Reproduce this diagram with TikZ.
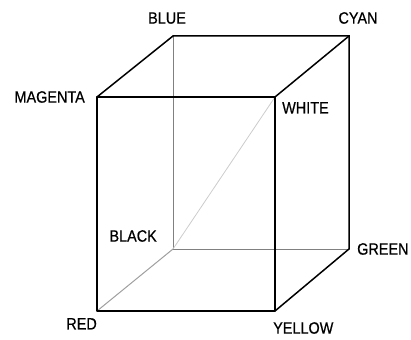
\documentclass[tikz,border=0pt]{standalone}
\usepackage{fontspec}
\setmainfont{Liberation Sans}[FakeStretch=0.88, FakeBold=0.6]
\usetikzlibrary{positioning}

\begin{document}
\begin{tikzpicture}[x=1pt, y=1pt,
    lbl/.style={inner sep=0pt, font=\fontsize{16.4}{18}\selectfont},
    front/.style={line width=1.7pt, line cap=round, line join=round},
    edge/.style={line width=1.5pt, line cap=round},
    hidden/.style={line width=0.7pt, gray},
    diag/.style={line width=1pt, gray!75}]
    \useasboundingbox (0,0) rectangle (411,339);

    % corners of the colour cube
    \coordinate (red) at (97,28);
    \coordinate (yellow) at (275,28);
    \coordinate (white) at (275,242);
    \coordinate (magenta) at (97,242);
    \coordinate (black) at (173,90);
    \coordinate (green) at (349,90);
    \coordinate (cyan) at (349,303);
    \coordinate (blue) at (173,303);

    % hidden edges and diagonal
    \draw[hidden] (blue) -- (black) -- (green);
    \draw[diag] (red) -- (black);
    \draw[line width=0.8pt, gray!40] (black) -- (white);

    % back and depth edges
    \draw[edge] (magenta) -- (blue) -- (cyan) -- (green) -- (yellow);
    \draw[edge] (white) -- (cyan);

    % front face
    \draw[front] (red) -- (yellow) -- (white) -- (magenta) -- cycle;

    % labels
    \node[lbl, above=12pt of blue, xshift=-6pt] (bluelbl) {BLUE};
    \node[lbl, above=12pt of cyan, xshift=9pt] (cyanlbl) {CYAN};
    \node[lbl, left=12pt of magenta] (magentalbl) {MAGENTA};
    \node[lbl, below right=5pt and 7pt of white] (whitelbl) {WHITE};
    \node[lbl, above left=7pt and 16pt of black] (blacklbl) {BLACK};
    \node[lbl, right=8pt of green] (greenlbl) {GREEN};
    \node[lbl, below left=7pt and 0pt of red] (redlbl) {RED};
    \node[lbl, below right=11pt and -2pt of yellow] (yellowlbl) {YELLOW};
\end{tikzpicture}
\end{document}
